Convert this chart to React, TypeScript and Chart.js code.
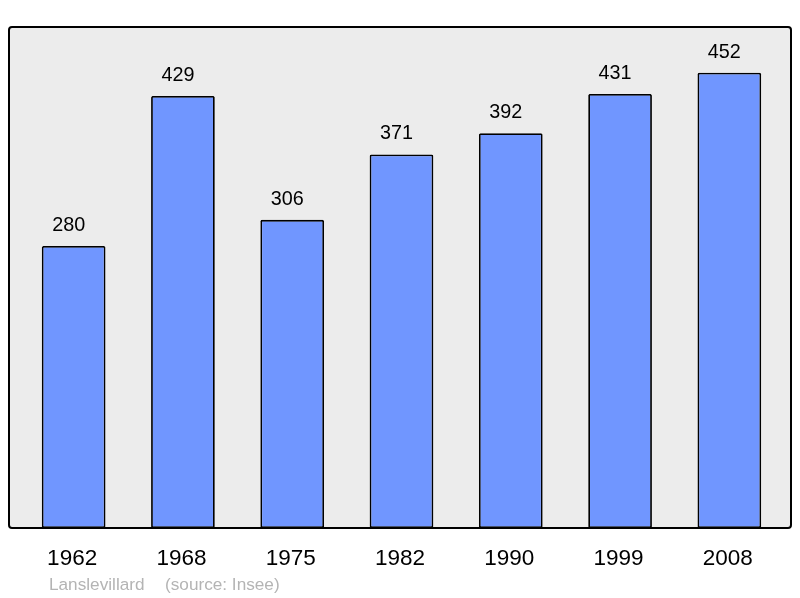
import React, { useEffect, useRef } from "react";
import { Chart, registerables } from "chart.js";

Chart.register(...registerables);

const years = ["1962", "1968", "1975", "1982", "1990", "1999", "2008"];
const population = [280, 429, 306, 371, 392, 431, 452];
const sourceName = "Lanslevillard";
const sourceNote = "(source: Insee)";

const FONT = "'Liberation Sans', Arial, sans-serif";

function roundRect(ctx: CanvasRenderingContext2D, x: number, y: number, w: number, h: number, r: number) {
  ctx.beginPath();
  ctx.moveTo(x + r, y);
  ctx.lineTo(x + w - r, y);
  ctx.quadraticCurveTo(x + w, y, x + w, y + r);
  ctx.lineTo(x + w, y + h - r);
  ctx.quadraticCurveTo(x + w, y + h, x + w - r, y + h);
  ctx.lineTo(x + r, y + h);
  ctx.quadraticCurveTo(x, y + h, x, y + h - r);
  ctx.lineTo(x, y + r);
  ctx.quadraticCurveTo(x, y, x + r, y);
  ctx.closePath();
}

const framePlugin = {
  id: "frame",
  beforeDatasetsDraw(chart: any) {
    const { ctx, chartArea } = chart;
    const x0 = chartArea.left - 10;
    const x1 = chartArea.right + 7;
    ctx.save();
    roundRect(ctx, x0, chartArea.top, x1 - x0, chartArea.bottom - chartArea.top, 3);
    ctx.fillStyle = "#ececec";
    ctx.fill();
    ctx.restore();
  },
  afterDatasetsDraw(chart: any) {
    const { ctx, chartArea } = chart;
    const x0 = chartArea.left - 10;
    const x1 = chartArea.right + 7;
    ctx.save();
    roundRect(ctx, x0, chartArea.top, x1 - x0, chartArea.bottom - chartArea.top, 3);
    ctx.lineWidth = 2;
    ctx.strokeStyle = "#000";
    ctx.stroke();
    ctx.restore();
  },
  afterDraw(chart: any) {
    const { ctx, chartArea } = chart;
    const meta = chart.getDatasetMeta(0);
    const xScale = chart.scales.x;
    ctx.save();
    ctx.textAlign = "center";
    ctx.textBaseline = "alphabetic";
    ctx.fillStyle = "#000";
    ctx.font = `19.8px ${FONT}`;
    meta.data.forEach((bar: any, i: number) => {
      ctx.fillText(String(population[i]), bar.x - 5, bar.y - 15);
    });
    ctx.font = `22.5px ${FONT}`;
    years.forEach((y, i) => {
      ctx.fillText(y, xScale.getPixelForValue(i) - 1.5, chartArea.bottom + 37);
    });
    ctx.textAlign = "left";
    ctx.fillStyle = "#b4b4b4";
    ctx.font = `17.2px ${FONT}`;
    ctx.fillText(sourceName, 49, chartArea.bottom + 62);
    ctx.fillText(sourceNote, 165, chartArea.bottom + 62);
    ctx.restore();
  },
};

export default function App() {
  const ref = useRef<HTMLCanvasElement>(null);
  useEffect(() => {
    if (!ref.current) return;
    const chart = new Chart(ref.current, {
      type: "bar",
      data: {
        labels: years,
        datasets: [
          {
            data: population,
            backgroundColor: "#7096ff",
            borderColor: "#000",
            borderWidth: 1.8,
            borderSkipped: false,
            borderRadius: 1.5,
            categoryPercentage: 1,
            barPercentage: 0.583,
          },
        ],
      },
      options: {
        responsive: false,
        animation: false,
        layout: { padding: { left: 19, right: 16, top: 27, bottom: 70 } },
        scales: {
          x: { display: false },
          y: { display: false, min: 0, max: 497.5 },
        },
        plugins: {
          legend: { display: false },
          tooltip: { enabled: false },
        },
      },
      plugins: [framePlugin],
    });
    return () => chart.destroy();
  }, []);
  return (
    <div style={{ position: "fixed", left: 0, top: 0, width: 800, height: 598, background: "#fff" }}>
      <canvas ref={ref} width={800} height={598} style={{ width: 800, height: 598 }} />
    </div>
  );
}
